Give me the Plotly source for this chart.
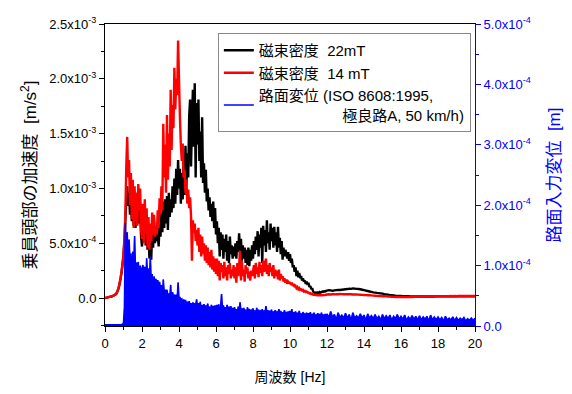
import numpy as np
import plotly.graph_objects as go

# Frequency grid [Hz]: 0.05 Hz steps up to 11.95 Hz, then 0.1 Hz steps to 20 Hz
freq = np.concatenate([np.arange(240) * 0.05, 12.0 + np.arange(81) * 0.1])

# Acceleration, 22 mT  [x1e-4 m/s^2]
acc_22mT = [
    0.00,0.02,0.04,0.06,0.08,0.10,0.12,0.14,0.17,0.21,0.25,0.30,0.38,0.52,0.72,1.00,1.40,1.85,2.40,3.10,
    3.9,5.2,7.0,9.0,10.2,8.4,9.6,7.6,9.0,7.0,8.6,6.6,8.8,6.4,9.6,7.2,9.0,6.8,8.0,5.6,
    4.7,6.0,5.2,6.6,4.8,6.8,4.4,6.0,3.6,5.6,3.5,6.4,4.6,7.0,5.0,6.4,5.2,5.8,4.7,6.8,
    5.6,7.8,6.0,8.8,6.4,9.0,6.8,9.3,6.2,9.6,7.4,9.0,7.8,10.2,8.2,10.9,8.6,11.8,9.4,12.6,
    10.0,11.8,8.6,11.4,9.0,13.0,9.4,13.9,10.2,13.2,11.0,16.6,18.1,12.0,16.0,19.0,13.8,19.6,11.0,17.8,
    14.0,18.1,12.5,15.2,11.0,16.5,10.5,12.3,9.6,11.7,8.8,10.0,8.0,9.2,7.4,8.6,7.0,8.8,6.4,8.2,
    5.8,7.0,5.0,6.4,3.8,6.0,4.4,5.8,3.6,5.4,4.2,5.8,3.4,5.2,3.2,5.6,4.0,4.8,3.6,4.7,
    3.8,5.0,3.6,5.2,4.2,5.9,3.8,5.4,3.4,4.8,3.6,4.6,3.2,4.4,3.0,4.6,2.9,4.4,3.4,4.8,
    3.6,5.2,4.0,5.6,4.4,6.1,3.8,5.8,4.6,6.4,3.2,6.6,4.8,6.2,4.2,7.1,5.0,6.0,4.4,6.8,
    5.2,6.4,4.6,6.5,4.8,6.0,4.2,6.5,4.6,5.5,4.0,5.2,3.5,4.6,3.8,4.4,4.1,3.6,4.2,3.4,
    4.0,3.2,3.6,2.8,3.0,2.4,2.8,2.0,2.5,1.9,2.3,1.8,2.0,1.6,1.8,1.5,1.6,1.3,1.5,1.2,
    1.4,1.0,1.1,0.8,0.9,0.6,0.5,0.45,0.5,0.4,0.5,0.45,0.55,0.5,0.55,0.6,0.58,0.62,0.6,0.65,
    0.68,0.72,0.70,0.66,0.70,0.72,0.74,0.73,0.76,0.78,
    0.80,0.82,0.85,0.84,0.88,0.86,0.84,0.82,0.80,0.76,
    0.72,0.68,0.64,0.60,0.56,0.52,0.50,0.47,0.45,0.43,
    0.40,0.36,0.33,0.30,0.27,0.25,0.23,0.21,0.20,0.19,
    0.18,0.17,0.17,0.16,0.16,0.15,0.15,0.15,0.14,0.14,
    0.14,0.14,0.14,0.14,0.14,0.14,0.14,0.15,0.14,0.15,
    0.15,0.15,0.15,0.15,0.15,0.16,0.15,0.16,0.16,0.16,
    0.16,0.16,0.16,0.16,0.16,0.16,0.16,0.16,0.16,0.16,0.16,
]

# Acceleration, 14 mT  [x1e-4 m/s^2]
acc_14mT = [
    0.00,0.02,0.04,0.06,0.08,0.10,0.12,0.15,0.18,0.22,0.26,0.32,0.40,0.55,0.75,1.05,1.45,1.90,2.50,3.20,
    4.0,5.5,7.6,12.0,14.7,11.0,12.6,8.5,11.4,7.2,10.8,6.4,10.2,7.0,9.6,6.6,10.4,8.0,10.0,6.2,
    5.4,8.6,5.0,9.0,6.0,8.2,4.6,7.4,4.4,6.8,5.2,7.8,5.8,7.6,5.6,6.6,5.8,8.0,6.4,9.1,
    7.6,10.2,8.0,15.9,11.0,14.0,9.6,16.7,10.8,15.0,12.0,19.0,13.5,17.6,15.5,21.0,17.2,20.0,18.5,23.5,
    20.0,16.5,14.0,12.5,14.1,11.0,11.7,9.6,10.8,8.6,9.9,8.2,9.2,7.5,3.4,7.1,6.0,6.8,5.2,6.2,
    4.8,6.4,4.2,5.8,3.8,5.6,4.0,5.0,3.4,4.8,3.2,4.6,3.0,4.2,2.8,4.4,2.6,3.8,2.4,3.6,
    2.2,3.6,2.0,3.4,1.6,3.2,2.4,3.0,1.8,3.3,2.0,2.8,1.6,3.0,2.2,3.2,1.8,2.6,2.0,3.0,
    1.8,2.8,1.4,3.2,2.0,3.0,4.3,1.6,3.4,2.0,2.6,1.5,3.0,2.2,2.8,1.8,2.4,1.6,2.5,2.0,
    2.4,3.0,1.8,3.2,2.2,2.8,1.9,3.3,2.3,3.0,2.0,3.4,2.4,3.1,3.6,2.2,3.0,2.0,3.2,2.4,
    2.8,2.0,3.0,1.8,2.6,2.0,2.5,1.7,2.6,1.6,2.2,1.8,2.0,1.5,1.8,1.4,1.7,1.3,1.5,1.4,
    1.4,1.2,1.4,1.1,1.3,1.0,1.1,0.9,1.0,0.8,0.9,0.75,0.8,0.7,0.75,0.6,0.65,0.55,0.6,0.5,
    0.5,0.42,0.45,0.36,0.38,0.3,0.32,0.28,0.3,0.26,0.28,0.25,0.27,0.25,0.27,0.26,0.28,0.27,0.28,0.3,
    0.32,0.34,0.33,0.35,0.34,0.36,0.35,0.37,0.36,0.35,
    0.36,0.35,0.34,0.35,0.33,0.32,0.33,0.31,0.30,0.29,
    0.28,0.27,0.26,0.25,0.24,0.22,0.21,0.20,0.19,0.18,
    0.17,0.16,0.15,0.14,0.13,0.12,0.11,0.10,0.10,0.09,
    0.09,0.10,0.09,0.10,0.10,0.11,0.10,0.11,0.12,0.11,
    0.12,0.13,0.12,0.13,0.14,0.13,0.14,0.15,0.14,0.15,
    0.15,0.16,0.15,0.17,0.16,0.17,0.16,0.18,0.17,0.18,
    0.17,0.18,0.19,0.18,0.19,0.18,0.19,0.18,0.19,0.18,0.18,
]

# Road displacement (ISO 8608:1995, class A, 50 km/h)  [x1e-5 m]
road_disp = [
    0.2,0.2,0.2,0.2,0.2,0.2,0.2,0.2,0.2,0.2,0.2,0.2,0.2,0.2,0.2,0.2,0.2,0.2,0.25,0.3,
    0.5,3.0,17.0,12.0,15.5,10.0,14.3,11.0,12.0,6.0,12.3,9.5,14.9,9.0,10.5,9.5,10.6,6.5,10.0,8.5,
    9.5,10.1,8.0,9.8,5.5,11.2,8.5,9.5,7.5,11.5,7.0,8.6,5.0,8.2,7.0,7.8,6.8,7.6,6.5,7.3,
    6.0,6.8,4.0,7.7,5.5,6.0,5.2,6.0,4.8,5.4,4.6,6.8,3.5,5.6,4.8,5.2,4.6,5.2,4.4,7.2,
    4.4,4.8,4.0,4.6,2.8,4.4,3.8,4.3,3.6,4.0,3.5,4.1,3.4,3.8,2.5,3.9,3.3,3.75,3.4,4.4,
    3.2,3.8,3.0,4.0,2.2,3.5,3.0,3.6,2.9,3.4,2.8,3.7,2.8,3.2,2.0,3.5,2.8,3.3,2.7,3.4,
    2.8,3.5,2.6,3.6,2.0,3.2,5.3,2.8,3.4,2.6,3.1,2.6,3.5,1.8,3.2,2.6,3.3,2.5,3.0,2.5,
    3.1,2.5,2.8,1.8,3.2,2.4,3.9,2.5,2.9,2.4,3.0,2.3,2.7,1.7,3.1,2.3,2.8,2.4,2.6,2.3,
    2.9,2.3,2.6,1.7,3.0,2.2,2.7,2.3,2.5,2.2,2.8,1.6,2.6,2.2,3.3,2.3,2.6,2.1,2.5,2.2,
    2.7,1.6,2.4,2.1,2.6,2.0,2.3,2.1,2.8,2.0,2.5,1.5,2.3,2.0,2.6,2.0,2.2,1.9,2.4,1.9,
    2.5,1.9,2.8,1.4,2.3,1.9,2.4,1.8,2.2,1.8,2.5,1.8,2.1,1.4,2.3,1.8,2.0,1.7,2.2,1.7,
    2.1,1.7,2.3,1.3,2.0,1.7,2.2,1.6,1.9,1.6,2.1,1.6,2.0,1.3,2.2,1.6,1.9,1.5,2.0,1.5,
    2.0,1.4,2.4,1.4,1.9,1.0,2.2,1.4,1.8,1.3,
    2.1,1.3,1.9,1.0,2.2,1.3,1.7,1.3,2.0,1.3,
    1.8,0.9,2.0,1.3,1.7,1.2,1.9,1.2,1.6,1.0,
    1.9,1.2,1.7,1.2,1.8,0.9,1.6,1.2,1.9,1.1,
    1.6,1.1,1.8,0.9,1.5,1.1,1.7,1.1,1.6,1.0,
    1.7,1.0,1.5,1.1,1.6,0.8,1.8,1.0,1.5,1.0,
    1.5,1.0,1.4,0.8,1.6,1.0,1.3,1.0,1.5,0.9,
    1.4,0.9,1.3,1.0,1.4,0.8,1.2,0.9,1.3,0.9,1.3,
]

series_names = ["磁束密度  22mT", "磁束密度  14 mT",
                "路面変位 (ISO 8608:1995,<br>\u3000\u3000\u3000\u3000\u3000\u00a0\u00a0極良路A, 50 km/h)"]

x_ticks = [0, 2, 4, 6, 8, 10, 12, 14, 16, 18, 20]
y1_ticks = [0, 5e-4, 1e-3, 1.5e-3, 2e-3, 2.5e-3]
y1_text = ["0.0", "5.0x10<sup>-4</sup>", "1.0x10<sup>-3</sup>", "1.5x10<sup>-3</sup>",
           "2.0x10<sup>-3</sup>", "2.5x10<sup>-3</sup>"]
y2_ticks = [0, 1e-4, 2e-4, 3e-4, 4e-4, 5e-4]
y2_text = ["0.0", "1.0x10<sup>-4</sup>", "2.0x10<sup>-4</sup>", "3.0x10<sup>-4</sup>",
           "4.0x10<sup>-4</sup>", "5.0x10<sup>-4</sup>"]

FONT = "Liberation Sans, Arial, Noto Sans CJK JP, sans-serif"
BLUE = "#0000ff"

road_m = np.array(road_disp) * 1e-5

fig = go.Figure()
fig.add_trace(go.Scatter(x=freq, y=np.array(acc_22mT) * 1e-4, mode="lines",
                         name=series_names[0],
                         line=dict(color="#000000", width=2.4, simplify=False)))
fig.add_trace(go.Scatter(x=freq, y=np.array(acc_14mT) * 1e-4, mode="lines",
                         name=series_names[1],
                         line=dict(color="#ff0000", width=2.4, simplify=False)))
# dense road-displacement spectrum: filled band under the line (no legend entry)
fig.add_trace(go.Scatter(x=freq, y=road_m, mode="lines", fill="tozeroy",
                         fillcolor=BLUE, showlegend=False, hoverinfo="skip",
                         line=dict(color=BLUE, width=0.5, simplify=False),
                         yaxis="y2"))
fig.add_trace(go.Scatter(x=freq, y=road_m, mode="lines",
                         name=series_names[2],
                         line=dict(color=BLUE, width=1.6, simplify=False),
                         yaxis="y2"))

fig.update_layout(
    width=572, height=394,
    margin=dict(l=105, r=97, t=24, b=68),
    paper_bgcolor="white", plot_bgcolor="white",
    font=dict(family=FONT, size=13, color="black"),
    showlegend=True,
    legend=dict(x=0.305, y=0.97, xanchor="left", yanchor="top",
                bgcolor="white", bordercolor="#888888", borderwidth=1,
                font=dict(size=15, family=FONT), tracegroupgap=0,
                itemwidth=30),
    xaxis=dict(range=[0, 20], tickmode="array", tickvals=x_ticks,
               ticks="outside", ticklen=5, tickwidth=1, tickcolor="black",
               minor=dict(tickmode="array", tickvals=[1, 3, 5, 7, 9, 11, 13, 15, 17, 19],
                          ticks="outside", ticklen=3, tickcolor="black"),
               showline=True, linecolor="black", linewidth=1, mirror=True,
               showgrid=False, zeroline=False,
               tickfont=dict(size=13),
               title=dict(text="周波数 [Hz]", font=dict(size=14), standoff=22)),
    yaxis=dict(range=[-2.55e-4, 2.5e-3], tickmode="array", tickvals=y1_ticks, ticktext=y1_text,
               ticks="outside", ticklen=5, tickwidth=1, tickcolor="black",
               minor=dict(tickmode="array",
                          tickvals=[-2.5e-4, 2.5e-4, 7.5e-4, 1.25e-3, 1.75e-3, 2.25e-3],
                          ticks="outside", ticklen=3, tickcolor="black"),
               showline=True, linecolor="black", linewidth=1,
               showgrid=False, zeroline=False,
               tickfont=dict(size=13),
               title=dict(text="乗員頭部の加速度 \u00a0[m/s<sup>2</sup>]", font=dict(size=17),
                          standoff=8)),
    yaxis2=dict(range=[0, 5e-4], overlaying="y", side="right",
                tickmode="array", tickvals=y2_ticks, ticktext=y2_text,
                ticks="outside", ticklen=5, tickwidth=1, tickcolor=BLUE,
                minor=dict(tickmode="array",
                           tickvals=[5e-5, 1.5e-4, 2.5e-4, 3.5e-4, 4.5e-4],
                           ticks="outside", ticklen=3, tickcolor=BLUE),
                showline=True, linecolor=BLUE, linewidth=1,
                showgrid=False, zeroline=False,
                tickfont=dict(size=13, color=BLUE),
                title=dict(text="路面入力変位 \u00a0[m]", font=dict(size=17, color=BLUE),
                           standoff=18)),
)

fig.write_html("out.html")
